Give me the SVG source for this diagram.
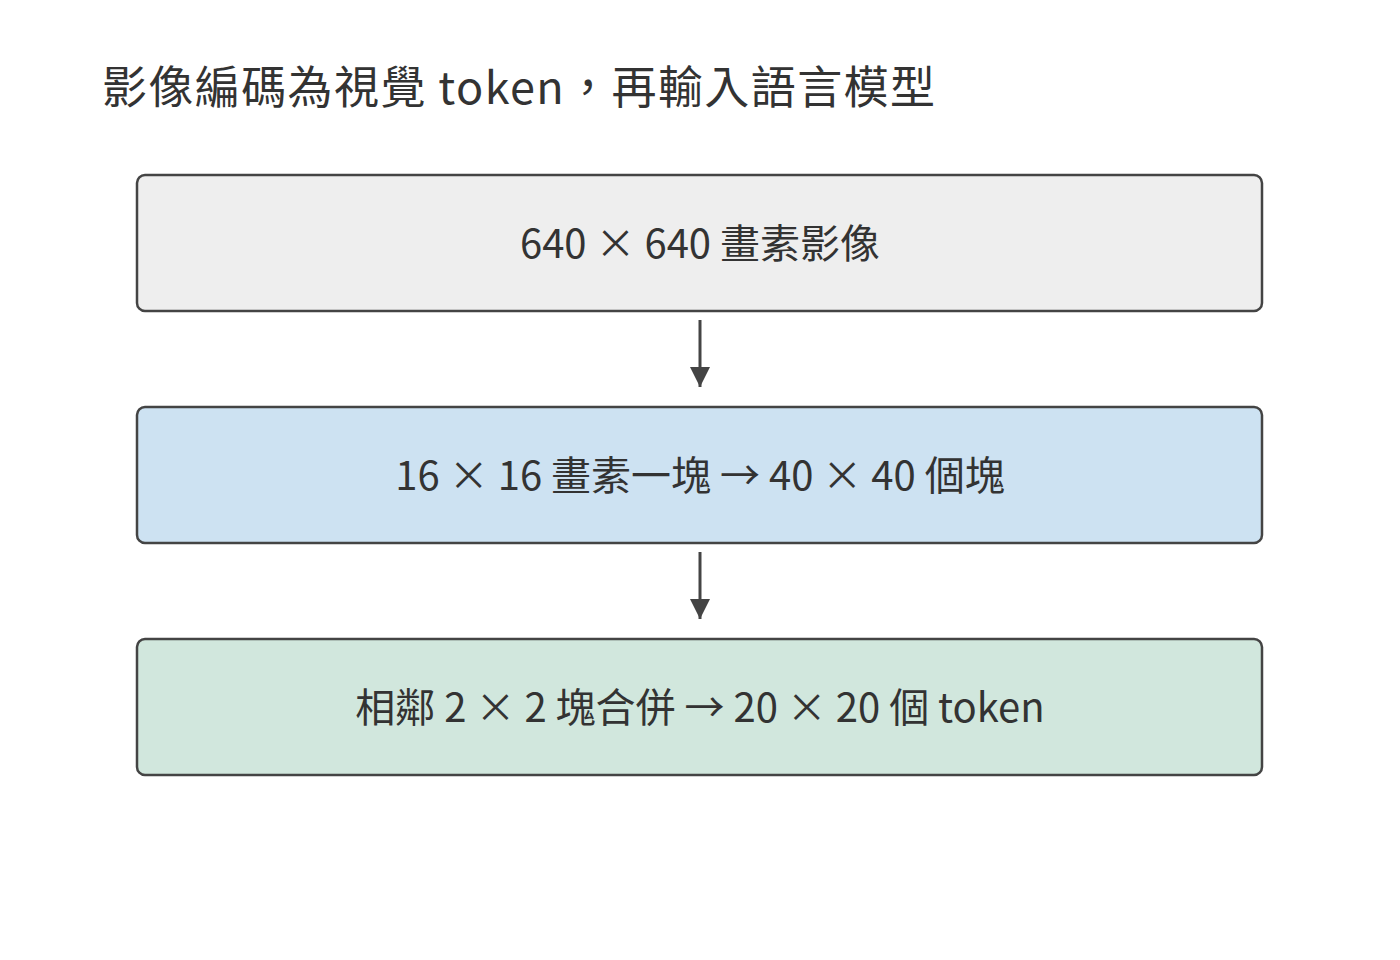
<svg xmlns="http://www.w3.org/2000/svg" width="1400" height="960" viewBox="0 0 1400 960">
<style>
text{font-family:"Noto Sans CJK TC","Noto Sans",sans-serif;fill:#333}
.box{stroke:#444;stroke-width:2.5}
.lbl{font-size:40px;text-anchor:middle}
.c{stroke:#444;stroke-width:3;fill:none}
</style>
<defs><marker id="a" markerWidth="20" markerHeight="20" refX="16" refY="8" orient="auto" markerUnits="userSpaceOnUse" viewBox="0 0 16 16"><path d="M0,0L16,8L0,16z" fill="#444"/></marker></defs>
<rect width="1400" height="960" fill="#fff"/>
<text x="102" y="104" font-size="45" textLength="833" lengthAdjust="spacing">影像編碼為視覺 token，再輸入語言模型</text>
<g id="n1"><rect class="box" x="137" y="175" width="1125" height="136" rx="8" fill="#eeeeee"/><text class="lbl" x="700" y="258">640 × 640 畫素影像</text></g>
<g id="n2"><rect class="box" x="137" y="407" width="1125" height="136" rx="8" fill="#cde2f2"/><text class="lbl" x="700" y="490">16 × 16 畫素一塊 → 40 × 40 個塊</text></g>
<g id="n3"><rect class="box" x="137" y="639" width="1125" height="136" rx="8" fill="#d1e7dd"/><text class="lbl" x="700" y="722">相鄰 2 × 2 塊合併 → 20 × 20 個 token</text></g>
<g id="connectors"><path class="c" d="M700 320V387" marker-end="url(#a)"/><path class="c" d="M700 552V619" marker-end="url(#a)"/></g>
</svg>
